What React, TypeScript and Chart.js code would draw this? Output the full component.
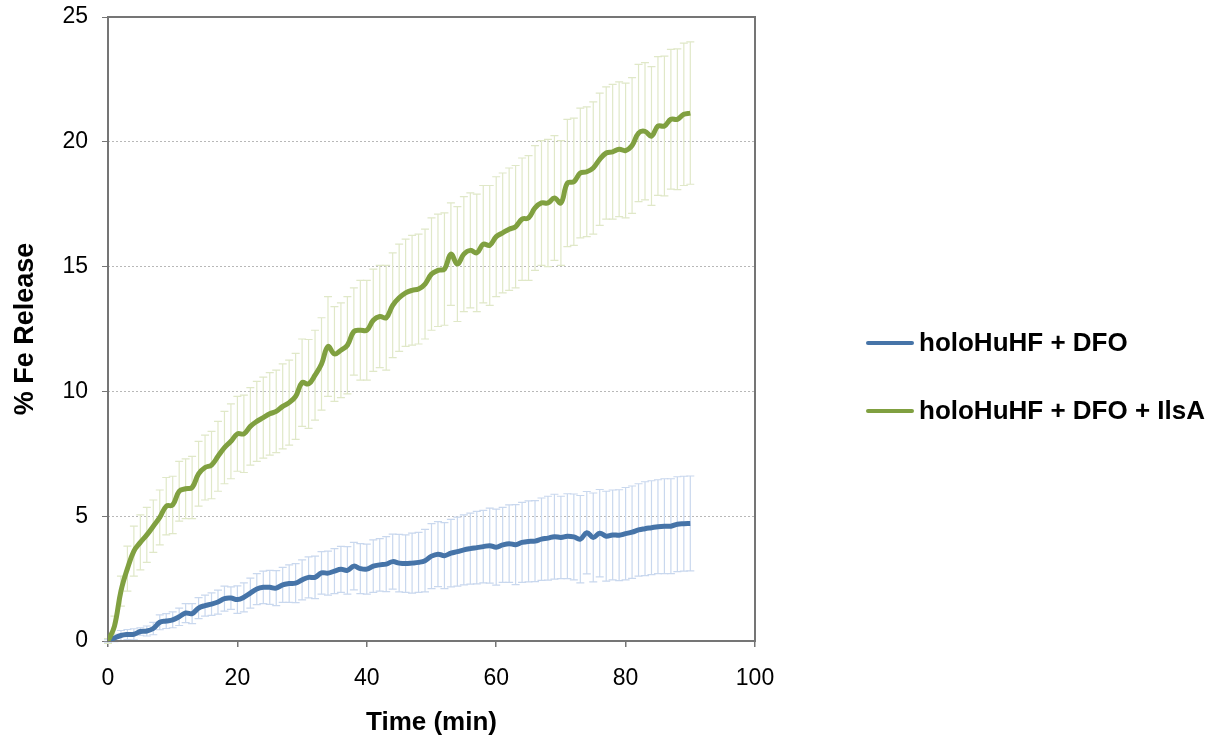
import React, { useEffect, useRef } from "react";
import { Chart, registerables } from "chart.js";

Chart.register(...registerables);

const timeMin: number[] = Array.from({ length: 91 }, (_, i) => i);

const seriesLabels: string[] = ["holoHuHF + DFO", "holoHuHF + DFO + IlsA"];

const dfoValues: number[] = [
  0.0, 0.12, 0.22, 0.26, 0.27, 0.38, 0.4, 0.5, 0.75, 0.8,
  0.85, 0.97, 1.12, 1.1, 1.32, 1.42, 1.48, 1.56, 1.7, 1.72,
  1.66, 1.75, 1.92, 2.08, 2.15, 2.15, 2.12, 2.25, 2.3, 2.32,
  2.45, 2.55, 2.55, 2.73, 2.72, 2.8, 2.87, 2.83, 3.0, 2.9,
  2.88, 3.0, 3.05, 3.08, 3.18, 3.12, 3.1, 3.12, 3.15, 3.22,
  3.4, 3.48, 3.42, 3.52, 3.58, 3.65, 3.7, 3.74, 3.78, 3.82,
  3.76, 3.85, 3.9, 3.86, 3.95, 3.99, 4.0, 4.08, 4.12, 4.18,
  4.15, 4.2, 4.17, 4.08, 4.34, 4.15, 4.32, 4.2, 4.25, 4.24,
  4.3, 4.36, 4.45, 4.5, 4.54, 4.58, 4.6, 4.6, 4.68, 4.7,
  4.71,
];

const dfoErrors: number[] = [
  0.05, 0.15, 0.2, 0.2, 0.22, 0.15, 0.2, 0.25, 0.3, 0.3,
  0.32, 0.35, 0.38, 0.4, 0.42, 0.42, 0.45, 0.48, 0.5, 0.45,
  0.55, 0.58, 0.6, 0.62, 0.65, 0.68, 0.7, 0.7, 0.75, 0.78,
  0.8, 0.82, 0.85, 0.85, 0.88, 0.9, 0.92, 0.95, 0.95, 1.0,
  1.0, 1.05, 1.05, 1.1, 1.1, 1.15, 1.15, 1.2, 1.2, 1.25,
  1.3, 1.3, 1.32, 1.35, 1.38, 1.4, 1.42, 1.45, 1.45, 1.5,
  1.52, 1.5, 1.55, 1.6, 1.6, 1.62, 1.62, 1.65, 1.68, 1.7,
  1.65, 1.7, 1.72, 1.75, 1.65, 1.78, 1.75, 1.8, 1.8, 1.82,
  1.85, 1.85, 1.85, 1.88, 1.88, 1.88, 1.9, 1.9, 1.9, 1.9,
  1.9,
];

const ilsaValues: number[] = [
  0.0, 0.6, 2.0, 2.9, 3.6, 3.95, 4.25, 4.6, 4.95, 5.4,
  5.45, 6.0, 6.1, 6.15, 6.7, 6.95, 7.05, 7.4, 7.75, 8.0,
  8.3, 8.3, 8.6, 8.8, 8.95, 9.1, 9.2, 9.4, 9.55, 9.8,
  10.35, 10.3, 10.65, 11.1, 11.8, 11.5, 11.65, 11.85, 12.4, 12.45,
  12.45, 12.85, 13.0, 12.95, 13.45, 13.75, 13.95, 14.05, 14.1, 14.3,
  14.7, 14.85, 14.9, 15.5, 15.1, 15.5, 15.65, 15.55, 15.9, 15.85,
  16.2, 16.35, 16.5, 16.6, 16.9, 16.95, 17.35, 17.55, 17.55, 17.75,
  17.55, 18.35, 18.4, 18.75, 18.8, 18.95, 19.3, 19.55, 19.6, 19.7,
  19.65, 19.85, 20.35, 20.42, 20.23, 20.63, 20.63, 20.9, 20.9, 21.1,
  21.15,
];

const ilsaErrors: number[] = [
  0.1, 0.4, 0.6, 0.9, 1.0, 1.1, 1.1, 1.05, 1.1, 1.15,
  1.15, 1.2, 1.2, 1.25, 1.3, 1.3, 1.35, 1.4, 1.45, 1.5,
  1.5, 1.55, 1.55, 1.6, 1.62, 1.65, 1.65, 1.7, 1.7, 1.72,
  1.75, 1.78, 1.8, 1.85, 2.0, 1.9, 1.9, 1.95, 1.75, 2.0,
  2.0, 2.05, 2.05, 2.1, 2.1, 2.15, 2.15, 2.2, 2.2, 2.2,
  2.25, 2.25, 2.25, 2.05, 2.3, 2.3, 2.3, 2.35, 2.35, 2.4,
  2.4, 2.4, 2.45, 2.45, 2.45, 2.5, 2.5, 2.5, 2.55, 2.5,
  2.5, 2.55, 2.55, 2.6, 2.6, 2.65, 2.65, 2.65, 2.7, 2.7,
  2.7, 2.72, 2.75, 2.75, 2.78, 2.78, 2.8, 2.8, 2.82, 2.85,
  2.85,
];

const xTicks: number[] = [0, 20, 40, 60, 80, 100];
const yTicks: number[] = [0, 5, 10, 15, 20, 25];

const FONT = "'Liberation Sans', Arial, Helvetica, sans-serif";
const LINE_COLORS = ["#4674a8", "#80a040"];
const ERR_COLORS = ["#c9d8ee", "#e0e8c8"];

const errorBarPlugin = {
  id: "errorBars",
  beforeDatasetsDraw(chart: any) {
    const ctx = chart.ctx;
    const yScale = chart.scales.y;
    ctx.save();
    chart.data.datasets.forEach((ds: any, di: number) => {
      const meta = chart.getDatasetMeta(di);
      if (!meta.visible || !ds.errors) return;
      ctx.strokeStyle = ERR_COLORS[di];
      ctx.lineWidth = 1.2;
      meta.data.forEach((el: any, i: number) => {
        const v = ds.data[i].y;
        const e = ds.errors[i];
        const x = el.x;
        const yt = yScale.getPixelForValue(v + e);
        const yb = yScale.getPixelForValue(v - e);
        ctx.beginPath();
        ctx.moveTo(x, yt);
        ctx.lineTo(x, yb);
        ctx.moveTo(x - 4, yt);
        ctx.lineTo(x + 4, yt);
        ctx.moveTo(x - 4, yb);
        ctx.lineTo(x + 4, yb);
        ctx.stroke();
      });
    });
    const a = chart.chartArea;
    ctx.strokeStyle = "#757575";
    ctx.lineWidth = 2;
    ctx.strokeRect(a.left, a.top, a.right - a.left, a.bottom - a.top);
    ctx.restore();
  },
};

const legendPlugin = {
  id: "customLegend",
  afterDraw(chart: any) {
    const ctx = chart.ctx;
    ctx.save();
    const rows = [343, 411];
    chart.data.datasets.forEach((ds: any, di: number) => {
      const y = rows[di];
      ctx.strokeStyle = LINE_COLORS[di];
      ctx.lineWidth = 4;
      ctx.lineCap = "round";
      ctx.beginPath();
      ctx.moveTo(868, y);
      ctx.lineTo(912, y);
      ctx.stroke();
      ctx.fillStyle = "#000";
      ctx.font = `bold 26px ${FONT}`;
      ctx.textBaseline = "middle";
      ctx.textAlign = "left";
      ctx.fillText(ds.label, 919, y + 1);
    });
    ctx.restore();
  },
};

export default function App() {
  const canvasRef = useRef<HTMLCanvasElement | null>(null);

  useEffect(() => {
    if (!canvasRef.current) return;
    const chart = new Chart(canvasRef.current, {
      type: "line",
      data: {
        datasets: [
          {
            label: seriesLabels[0],
            data: timeMin.map((t, i) => ({ x: t, y: dfoValues[i] })),
            errors: dfoErrors,
            borderColor: LINE_COLORS[0],
            backgroundColor: LINE_COLORS[0],
            borderWidth: 5,
            pointRadius: 0,
            tension: 0.4,
            order: 2,
          } as any,
          {
            label: seriesLabels[1],
            data: timeMin.map((t, i) => ({ x: t, y: ilsaValues[i] })),
            errors: ilsaErrors,
            borderColor: LINE_COLORS[1],
            backgroundColor: LINE_COLORS[1],
            borderWidth: 5,
            pointRadius: 0,
            tension: 0.4,
            order: 1,
          } as any,
        ],
      },
      options: {
        animation: false,
        responsive: true,
        maintainAspectRatio: false,
        layout: {
          padding: { left: 0, top: 17, right: 471, bottom: 0 },
        },
        plugins: {
          legend: { display: false },
          tooltip: { enabled: false },
        },
        scales: {
          x: {
            type: "linear",
            min: 0,
            max: 100,
            afterBuildTicks: (s: any) => {
              s.ticks = xTicks.map((v) => ({ value: v }));
            },
            afterFit: (s: any) => {
              s.height = 100;
              s.paddingLeft = 0;
              s.paddingRight = 0;
            },
            ticks: {
              font: { family: FONT, size: 23 },
              color: "#000",
              padding: 18,
              maxRotation: 0,
            },
            grid: {
              drawOnChartArea: false,
              drawTicks: true,
              tickLength: 6,
              color: "#757575",
              lineWidth: 1.5,
            },
            border: { display: false },
            title: {
              display: true,
              text: "Time (min)",
              font: { family: FONT, size: 26, weight: "bold" },
              color: "#000",
              padding: { top: 0, bottom: 3 },
            },
          },
          y: {
            type: "linear",
            min: 0,
            max: 25,
            afterBuildTicks: (s: any) => {
              s.ticks = yTicks.map((v) => ({ value: v }));
            },
            afterFit: (s: any) => {
              s.width = 108;
              s.paddingTop = 0;
              s.paddingBottom = 0;
            },
            ticks: {
              font: { family: FONT, size: 23 },
              color: "#000",
              padding: 14,
            },
            grid: {
              drawOnChartArea: true,
              drawTicks: true,
              tickLength: 6,
              color: "#b8b8b8",
              tickColor: "#757575",
              lineWidth: 1,
            },
            border: { display: false, dash: [2, 2] },
            title: {
              display: true,
              text: "% Fe Release",
              font: { family: FONT, size: 27, weight: "bold" },
              color: "#000",
              padding: { top: 9, bottom: 0 },
            },
          },
        },
      } as any,
      plugins: [errorBarPlugin, legendPlugin],
    });
    return () => chart.destroy();
  }, []);

  return (
    <div
      style={{
        position: "absolute",
        left: 0,
        top: 0,
        width: 1226,
        height: 741,
        background: "#fff",
      }}
    >
      <canvas ref={canvasRef} />
    </div>
  );
}
